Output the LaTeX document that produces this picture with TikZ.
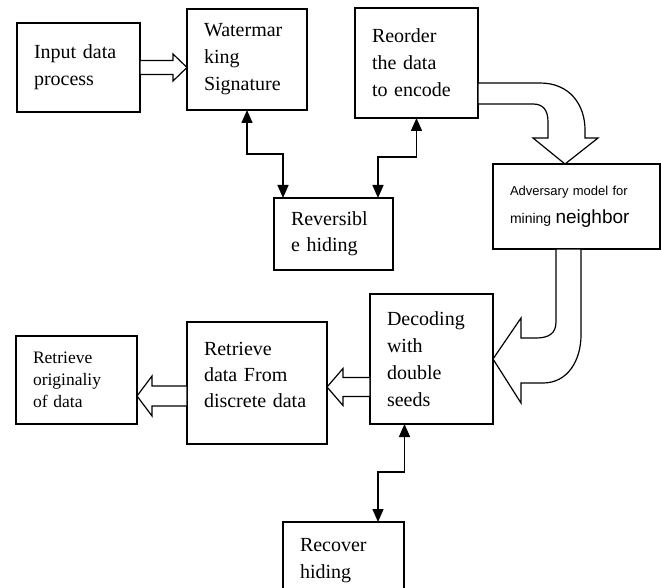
\documentclass[tikz,border=0pt]{standalone}
\usepackage{fontspec}
\setmainfont{Liberation Serif}
\newfontfamily\advfont{Liberation Sans}
\usetikzlibrary{arrows.meta}

\begin{document}
\begin{tikzpicture}[x=1pt, y=-1pt,
    stage/.style={draw, line width=1.4pt, anchor=north west, align=left, inner xsep=17pt, inner ysep=0pt, outer sep=0pt, font=\fontsize{20}{27}\selectfont},
    hollow/.style={draw, fill=white, line width=1.2pt, line join=miter},
    link/.style={line width=1.5pt, {Triangle[length=13pt,width=11pt]}-{Triangle[length=13pt,width=11pt]}}]
    \clip (0, 0) rectangle (661, 588);
    \fill[white] (0, 0) rectangle (661, 588);

    \node[stage, text width=89pt, minimum height=89pt] (inp) at(17, 23) {Input data\\process};
    \node[stage, text width=86pt, minimum height=101pt] (wm) at(187, 9) {Watermar\\king\\Signature};
    \node[stage, text width=89pt, minimum height=110pt] (reo) at(355, 8) {Reorder\\the data\\to encode};
    \node[stage, text width=133pt, minimum height=85pt, font=\advfont\fontsize{13}{28}\selectfont] (adv) at(493, 164) {Adversary model for\\{\fontsize{14}{28}\selectfont mining} {\fontsize{19}{28}\selectfont neighbor}};
    \node[stage, text width=85pt, minimum height=72pt, font=\fontsize{20}{26}\selectfont] (rev) at(274, 198) {Reversibl\\e hiding};
    \node[stage, text width=89pt, minimum height=130pt] (dec) at(370, 294) {Decoding\\with\\double\\seeds};
    \node[stage, text width=106pt, minimum height=122pt, text depth=68pt, font=\fontsize{20}{26}\selectfont] (ret) at(187, 322) {Retrieve\\data From\\discrete data};
    \node[stage, text width=87pt, minimum height=88pt, font=\fontsize{17.5}{22}\selectfont] (ori) at(16, 336) {Retrieve\\originaliy\\of data};
    \node[stage, text width=87pt, minimum height=78pt] (rec) at(283, 522) {Recover\\hiding};

    \draw[link] (wm.south) -- ++(0, 44) -| ([xshift=9pt]rev.north west);
    \draw[link] (reo.south) -- ++(0, 39) -| ([xshift=-15pt]rev.north east);
    \draw[link] ([xshift=-27pt]dec.south) -- ++(0, 48) -| ([xshift=95pt]rec.north west);

    \draw[hollow] (wm.west |- inp.east) -- ++(-14, -13.5) -- ++(0, 6.5) -- ++(-33, 0) -- ++(0, 14) -- ++(33, 0) -- ++(0, 6.5) -- cycle;
    \draw[hollow] ([yshift=-20pt]reo.east) -- ++(62, 0) .. controls +(30, 0) and +(0, -25) .. ++(45, 47) -- ++(0, 8) -- ++(13, 0)
        -- ([xshift=-11.5pt]adv.north) -- ++(-32, -26) -- ++(15, 0) -- ++(0, -16) .. controls +(0, -12) and +(10, 0) .. ++(-15, -18)
        -- ([yshift=-41pt]reo.east) -- cycle;
    \draw[hollow] ([xshift=-20.5pt]adv.south) -- ++(0, 73) .. controls +(0, 12) and +(12, 0) .. ++(-20, 16) -- ++(-15, 0) -- ++(0, -20)
        -- (dec.east) -- ++(28, 44) -- ++(0, -20) -- ++(22, 0) .. controls +(25, 0) and +(0, 25) .. ++(38, -48)
        -- ([xshift=4.5pt]adv.south) -- cycle;
    \draw[hollow] ([yshift=-4pt]ret.east) -- ++(16, -18.5) -- ++(0, 9) -- ++(27, 0) -- ++(0, 19) -- ++(-27, 0) -- ++(0, 9) -- cycle;
    \draw[hollow] ([yshift=-16pt]ori.east) -- ++(15, -20) -- ++(0, 10) -- ++(35, 0) -- ++(0, 20) -- ++(-35, 0) -- ++(0, 10) -- cycle;
\end{tikzpicture}
\end{document}
